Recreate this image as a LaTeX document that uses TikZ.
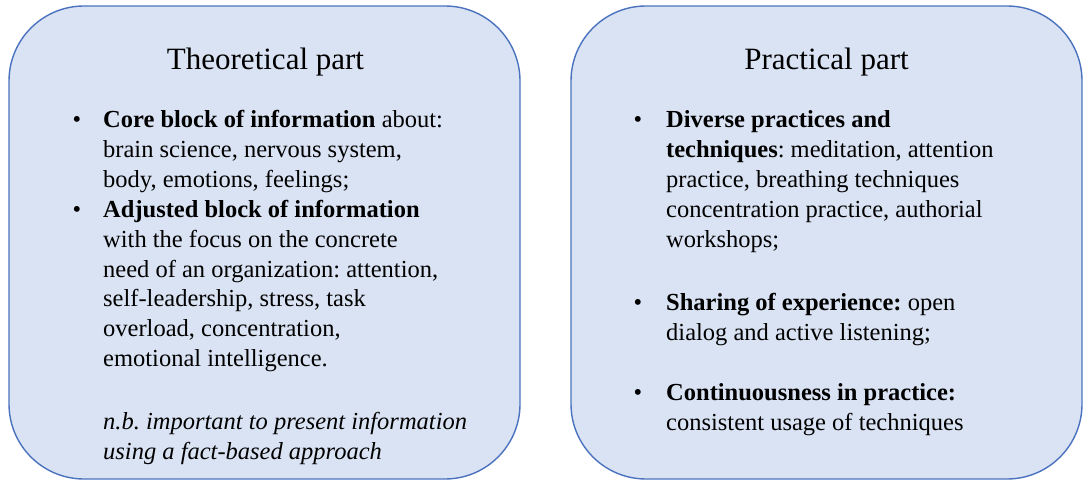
\documentclass[tikz,border=0pt]{standalone}
\usepackage{fontspec}
\setmainfont{Liberation Serif}
\frenchspacing
\definecolor{panelfill}{HTML}{DAE3F3}
\definecolor{panelline}{HTML}{4A72BE}
\begin{document}
\begin{tikzpicture}[x=1pt,y=-1pt,
  panel/.style={draw=panelline,line width=1.4pt,fill=panelfill,rounded corners=75pt},
  title/.style={inner sep=0pt,anchor=base,font=\fontsize{31}{36}\selectfont},
  txt/.style={inner sep=0pt,anchor=base west,font=\fontsize{24.5}{29}\selectfont},
  dot/.style={inner sep=0pt,anchor=base,font=\fontsize{24.5}{29}\selectfont}]
\useasboundingbox (0,0) rectangle (1089,481);

% two panels
\path[panel] (9,6) rectangle (520,479);
\path[panel] (571,6) rectangle (1082,479);

% theoretical part
\node[title] (t1) at (265.5,70) {Theoretical part};
\node[dot] (b1) at (77,128) {•};
\node[txt] (l1) at (103,128) {\textbf{Core block of information} about:};
\node[txt] (l2) at (103,157.8) {brain science, nervous system,};
\node[txt] (l3) at (103,187.6) {body, emotions, feelings;};
\node[dot] (b2) at (77,217.4) {•};
\node[txt] (l4) at (103,217.4) {\textbf{Adjusted block of information}};
\node[txt] (l5) at (103,247.2) {with the focus on the concrete};
\node[txt] (l6) at (103,277) {need of an organization: attention,};
\node[txt] (l7) at (103,306.8) {self-leadership, stress, task};
\node[txt] (l8) at (103,336.6) {overload, concentration,};
\node[txt] (l9) at (103,366.4) {emotional intelligence.};
\node[txt] (n1) at (103,429) {\itshape n.b. important to present information};
\node[txt] (n2) at (103,459) {\itshape using a fact-based approach};

% practical part
\node[title] (t2) at (826.5,70) {Practical part};
\node[dot] (c1) at (638,128) {•};
\node[txt] (r1) at (666,128) {\textbf{Diverse practices and}};
\node[txt] (r2) at (666,157.8) {\textbf{techniques}: meditation, attention};
\node[txt] (r3) at (666,187.6) {practice, breathing techniques};
\node[txt] (r4) at (666,217.4) {concentration practice, authorial};
\node[txt] (r5) at (666,247.2) {workshops;};
\node[dot] (c2) at (638,310) {•};
\node[txt] (r6) at (666,310) {\textbf{Sharing of experience:} open};
\node[txt] (r7) at (666,340) {dialog and active listening;};
\node[dot] (c3) at (638,400) {•};
\node[txt] (r8) at (666,400) {\textbf{Continuousness in practice:}};
\node[txt] (r9) at (666,430) {consistent usage of techniques};
\end{tikzpicture}
\end{document}
